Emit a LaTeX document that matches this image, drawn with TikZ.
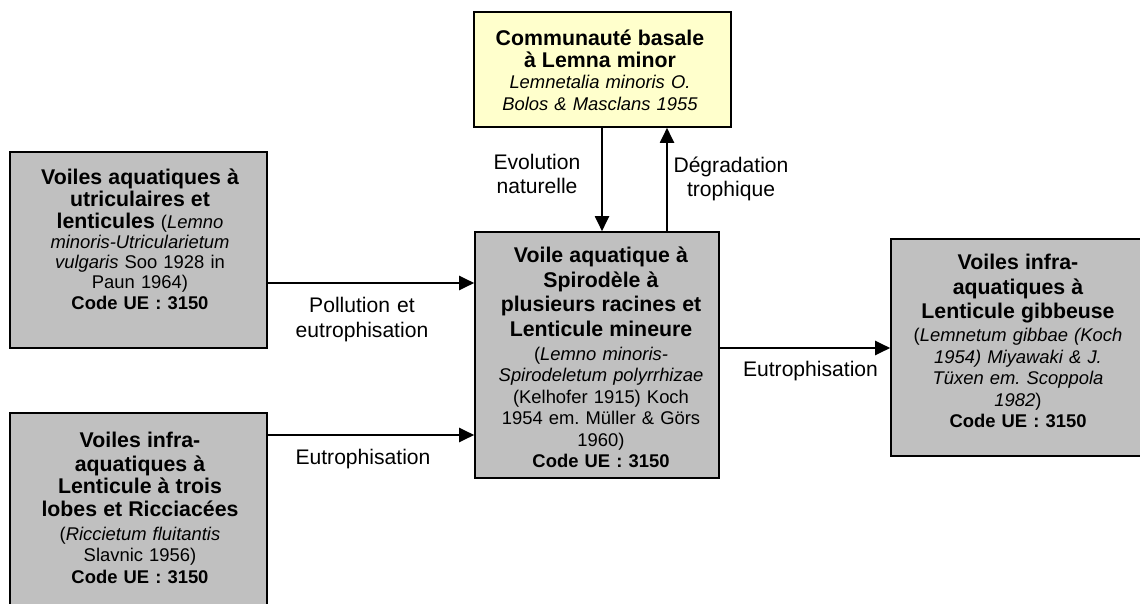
\documentclass[tikz,border=0pt]{standalone}
\usepackage{fontspec}
\setmainfont{Liberation Sans}
\usetikzlibrary{arrows.meta,calc}
\definecolor{boxgray}{HTML}{C0C0C0}
\definecolor{boxyellow}{HTML}{FFFFCC}
\newcommand\bodyfont{\fontsize{18.4}{21.5}\selectfont\lineskiplimit=-100pt\frenchspacing\relax}
\newcommand\tightfont{\fontsize{18.4}{20}\selectfont\lineskiplimit=-100pt\frenchspacing\relax}
\newcommand\labfont{\fontsize{21.1}{24.5}\selectfont\lineskiplimit=-100pt\relax}
\newcommand\ttlbf[1]{{\fontsize{21.3}{21.5}\selectfont\bfseries #1}}
\begin{document}
\begin{tikzpicture}[x=1pt,y=-1pt,
  box/.style={draw=black, line width=1.6pt, inner sep=0pt},
  graybox/.style={box, fill=boxgray},
  yelbox/.style={box, fill=boxyellow},
  txt/.style={text width=250pt, align=center, anchor=base, inner sep=0pt, font=\bodyfont},
  lab/.style={text width=160pt, align=center, anchor=base, inner sep=0pt, font=\labfont},
  arr/.style={line width=2pt, -{Triangle[length=15pt,width=14pt]}}
]
\fill[white] (0,0) rectangle (1140,604);
\useasboundingbox (0,0) rectangle (1140,604);

% boxes
\node[graybox, minimum width=257pt, minimum height=196pt] (b1) at (138.5,250) {};
\node[graybox, minimum width=257pt, minimum height=200pt] (b2) at (138.5,513) {};
\node[graybox, minimum width=244pt, minimum height=246pt] (c) at (597,355) {};
\node[yelbox, minimum width=257pt, minimum height=115pt] (top) at (602.5,69.5) {};
\node[graybox, minimum width=257pt, minimum height=217pt] (r) at (1019.5,347.5) {};

% box texts
\node[txt, font=\tightfont] (t1) at (140,185) {%
\ttlbf{Voiles aquatiques à}\\[1.7pt]
\ttlbf{utriculaires et}\\[1.7pt]
\ttlbf{lenticules} (\textit{Lemno}\\
\textit{minoris-Utricularietum}\\
\textit{vulgaris} Soo 1928 in\\
Paun 1964)\\[1.5pt]
\textbf{Code UE : 3150}};

\node[txt] (t2) at (140,447.5) {%
\ttlbf{Voiles infra-}\\[2pt]
\ttlbf{aquatiques à}\\[1pt]
\ttlbf{Lenticule à trois}\\[1.5pt]
\ttlbf{lobes et Ricciacées}\\[2pt]
(\textit{Riccietum fluitantis}\\
Slavnic 1956)\\
\textbf{Code UE : 3150}};

\node[txt] (tc) at (601,262.5) {%
\ttlbf{Voile aquatique à}\\[3pt]
\ttlbf{Spirodèle à}\\[3pt]
\ttlbf{plusieurs racines et}\\[3pt]
\ttlbf{Lenticule mineure}\\[2.5pt]
(\textit{Lemno minoris-}\\
\textit{Spirodeletum polyrrhizae}\\
(Kelhofer 1915) Koch\\
1954 em. Müller \& Görs\\
1960)\\
\textbf{Code UE : 3150}};

\node[txt] (ty) at (600,45.5) {%
\ttlbf{Communauté basale}\\[0.5pt]
\ttlbf{à Lemna minor}\\
\textit{Lemnetalia minoris O.}\\
\textit{Bolos \& Masclans 1955}};

\node[txt] (tr) at (1018,269.5) {%
\ttlbf{Voiles infra-}\\[3pt]
\ttlbf{aquatiques à}\\[3pt]
\ttlbf{Lenticule gibbeuse}\\[1.5pt]
(\textit{Lemnetum gibbae (Koch}\\
\textit{1954) Miyawaki \& J.}\\
\textit{Tüxen em. Scoppola}\\
\textit{1982})\\
\textbf{Code UE : 3150}};

% connectors
\coordinate (p1) at ($(b1.east)+(0,33)$);
\coordinate (p2) at ($(b2.east)+(0,-78)$);
\coordinate (p3) at ($(c.east)+(0,-7)$);
\coordinate (p4) at ($(c.north)+(70,0)$);
\coordinate (p5) at ($(top.south)+(-0.5,0)$);
\draw[arr] (p1) -- (p1 -| c.west);
\draw[arr] (p2) -- (p2 -| c.west);
\draw[arr] (p3) -- (p3 -| r.west);
\draw[arr] (p5) -- (p5 |- c.north);
\draw[arr] (p4) -- (p4 |- top.south);

% connector labels
\node[lab] (l1) at (537,169.5) {Evolution\\naturelle};
\node[lab] (l2) at (731,172.5) {Dégradation\\trophique};
\node[lab] (l3) at (362,312.5) {Pollution et\\eutrophisation};
\node[lab] (l4) at (363,464.5) {Eutrophisation};
\node[lab] (l5) at (810.5,376.5) {Eutrophisation};
\end{tikzpicture}
\end{document}
